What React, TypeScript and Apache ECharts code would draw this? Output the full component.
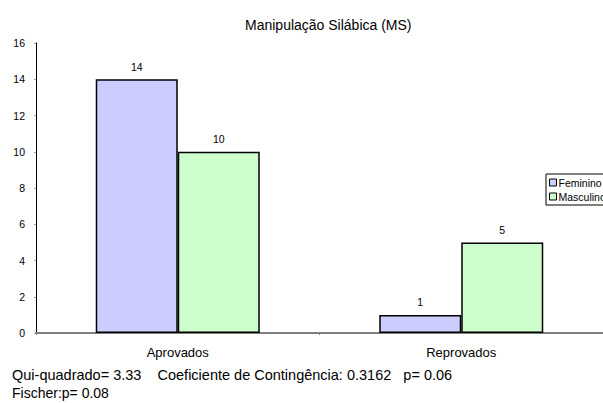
import React, { useEffect, useRef } from "react";
import * as echarts from "echarts";

const categories = ["Aprovados", "Reprovados"];
const feminino = [14, 1];
const masculino = [10, 5];
const seriesNames = ["Feminino", "Masculino"];
const titleText = "Manipulação Silábica (MS)";
const statLine1 = "Qui-quadrado= 3.33    Coeficiente de Contingência: 0.3162   p= 0.06";
const statLine2 = "Fischer:p= 0.08";

export default function App() {
  const ref = useRef<HTMLDivElement>(null);
  useEffect(() => {
    if (!ref.current) return;
    const chart = echarts.init(ref.current, undefined, { renderer: "svg" });
    const font = "Liberation Sans, Arial, sans-serif";
    chart.setOption({
      animation: false,
      backgroundColor: "#ffffff",
      textStyle: { fontFamily: font },
      title: {
        text: titleText,
        left: 240,
        top: 13,
        textStyle: { fontSize: 14, fontWeight: "normal", color: "#000", fontFamily: font },
      },
      legend: {
        orient: "vertical",
        left: 546,
        top: 174,
        itemWidth: 7,
        itemHeight: 7,
        itemGap: 3,
        padding: [3, 4, 3, 3],
        borderColor: "#000",
        borderWidth: 1,
        backgroundColor: "#fff",
        icon: "rect",
        itemStyle: { borderColor: "#000", borderWidth: 1 },
        textStyle: { fontSize: 10.5, color: "#000", padding: [0, 0, 0, -3], fontFamily: font },
        data: seriesNames,
        z: 10,
      },
      grid: { left: 36, right: -4, top: 43, bottom: 70, containLabel: false },
      xAxis: {
        type: "category",
        data: categories,
        axisLine: { show: true, lineStyle: { color: "#808080", width: 2 } },
        axisTick: { show: true, length: 2, lineStyle: { color: "#808080" } },
        axisLabel: { fontSize: 13, color: "#000", margin: 13, fontFamily: font },
      },
      yAxis: {
        type: "value",
        min: 0,
        max: 16,
        interval: 2,
        axisLine: { show: true, lineStyle: { color: "#000", width: 1 } },
        axisTick: { show: true, length: 2, lineStyle: { color: "#999" } },
        splitLine: { show: false },
        axisLabel: { fontSize: 10.5, color: "#000", margin: 11, fontFamily: font },
      },
      graphic: [
        {
          type: "text",
          left: 12,
          top: 367,
          style: { text: statLine1, fontSize: 14.5, fill: "#000", fontFamily: font },
        },
        {
          type: "text",
          left: 12,
          top: 386,
          style: { text: statLine2, fontSize: 14, fill: "#000", fontFamily: font },
        },
      ],
      series: [
        {
          name: seriesNames[0],
          type: "bar",
          data: feminino,
          barWidth: 82,
          barGap: "0%",
          itemStyle: { color: "#ccccff", borderColor: "#000", borderWidth: 1.5 },
          label: { show: true, position: "top", distance: 7, fontSize: 10.5, color: "#000", fontFamily: font },
          z: 3,
        },
        {
          name: seriesNames[1],
          type: "bar",
          data: masculino,
          barWidth: 82,
          barGap: "0%",
          itemStyle: { color: "#ccffcc", borderColor: "#000", borderWidth: 1.5 },
          label: { show: true, position: "top", distance: 7, fontSize: 10.5, color: "#000", fontFamily: font },
          z: 3,
        },
      ],
    });
    return () => chart.dispose();
  }, []);
  return <div ref={ref} style={{ width: 603, height: 403, position: "absolute", left: 0, top: 0 }} />;
}
